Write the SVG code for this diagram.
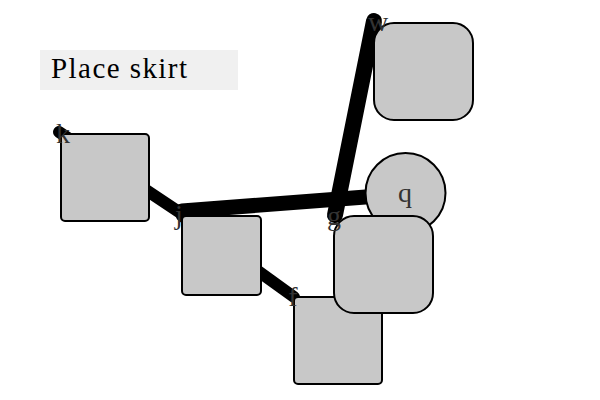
<svg xmlns="http://www.w3.org/2000/svg" width="600" height="400" viewBox="0 0 600 400">
<style>
.node{fill:#c8c8c8;stroke:#000;stroke-width:2}
.lbl{font-family:"Liberation Serif","DejaVu Serif",serif;font-size:28px;fill:#333;text-anchor:middle}
.edge{stroke:#000;stroke-linecap:round;fill:none}
</style>
<rect x="0" y="0" width="600" height="400" fill="#fff"/>
<g id="title">
<rect x="40" y="50" width="198" height="40" fill="#f0f0f0"/>
<text x="51" y="78" font-family="'Liberation Serif','DejaVu Serif',serif" font-size="29" textLength="136" lengthAdjust="spacing" fill="#000">Place skirt</text>
</g>
<g id="edges">
<line class="edge" x1="59" y1="132" x2="182" y2="214" stroke-width="12"/>
<line class="edge" x1="182" y1="216" x2="294" y2="297" stroke-width="12"/>
<line class="edge" x1="182" y1="211" x2="405" y2="194" stroke-width="15"/>
<line class="edge" x1="335" y1="215" x2="374" y2="21" stroke-width="16"/>
</g>
<g id="k"><rect class="node" x="61" y="134" width="88" height="87" rx="4"/><text class="lbl" x="63" y="143">k</text></g>
<g id="j"><rect class="node" x="182" y="216" width="79" height="79" rx="4"/><text class="lbl" x="179" y="224">j</text></g>
<g id="f"><rect class="node" x="294" y="297" width="88" height="87" rx="4"/><text class="lbl" x="293" y="306">f</text></g>
<g id="q"><circle class="node" cx="405.5" cy="193" r="40"/><text class="lbl" x="405" y="202">q</text></g>
<g id="g"><rect class="node" x="334" y="216" width="99" height="97" rx="20"/><text class="lbl" x="334" y="225">g</text></g>
<g id="w"><rect class="node" x="374" y="23" width="99" height="97" rx="20"/><text class="lbl" x="378" y="31">w</text></g>
</svg>
